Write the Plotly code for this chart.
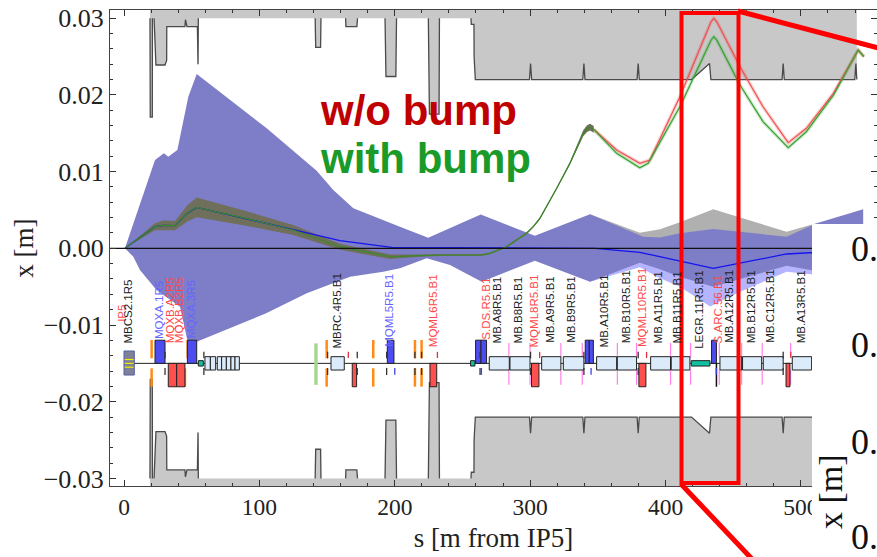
import plotly.graph_objects as go

# ---------- optics data (s in m from IP5, x in m) ----------
env_up_s = [0.7, 22.9, 29.5, 32.7, 39.4, 47.5, 53.7, 105.4, 142.3, 154.6, 169.4, 203.8, 224.7, 263.5, 303.5, 344.2, 383.5, 395.9, 410.6, 435.3, 489.4, 511.6, 546]
env_up_x = [0, .01151, .01238, .01194, .01282, .01977, .02272, .01565, .01012, .0076, .00521, .00282, .00138, .00440, .00164, .00443, .00151, .00141, .00195, .00252, .00151, .00326, .00508]
env_lo_s = [0.7, 6.9, 11.8, 24, 41.4, 46.8, 53.7, 105, 135, 167, 191.5, 203.8, 223.6, 240.8, 264.2, 303.5, 344.2, 381, 395.9, 410.6, 435.3, 489.4, 509, 546]
env_lo_x = [0, -.0011, -.00283, -.00544, -.00761, -.01196, -.01218, -.00848, -.00587, -.0037, -.00305, -.00261, -.0013, -.00218, -.00435, -.00162, -.00435, -.00188, -.00274, -.0037, -.005, -.00227, -.0029, -.0050]

grey_env_s = [344.2, 381, 395.9, 410.6, 435.3, 489.4, 511.6]
grey_env_x = [.00443, .00203, .00248, .00339, .00508, .00216, .00326]
light_env_s = [344.2, 381, 395.9, 410.6, 433, 453.5, 489.4, 509]
light_env_x = [-.00435, -.00248, -.0039, -.0050, -.0076, -.0058, -.00305, -.0034]

orbit_s = [0.7, 22.9, 29, 37.7, 46.8, 53.7, 90, 125, 159.5, 196.5, 218.6, 233.4, 264.2, 270.3, 282.6, 290, 297.4, 302.3, 307.2, 319.6, 329.4, 339.2, 342, 344.2, 347]
orbit_x = [0, .00282, .003, .00295, .00456, .00534, .0039, .00239, .00021, -.0011, -.00096, -.00087, -.00087, -.00066, .00021, .00108, .00196, .00282, .00391, .00782, .01108, .0150, .0156, .0158, .0155]
band_half = [0, .00045, .00065, .0006, .00105, .0013, .00095, .00065, .0004, .0003, .00015, .00012, .00012, .00012, .00012, .00012, .00012, .00012, .00015, .00015, .0002, .0004, .00045, .00045, .00045]

red_s = [347, 363.9, 381, 388.5, 410.6, 433.5, 435.7, 438, 455, 472, 490.6, 504, 524, 542.3, 546.5]
red_x = [.0155, .01282, .01108, .01151, .01977, .0295, .0300, .0295, .02368, .01846, .01377, .01565, .02021, .02585, .02498]
green_s = [347, 363.9, 381, 387.2, 410.6, 433.5, 435.7, 438, 455, 472, 490.6, 504, 524, 542.3, 546.5]
green_x = [.0155, .01238, .0105, .01108, .01846, .0271, .02759, .0271, .02129, .01651, .01312, .0152, .01995, .02585, .02498]
blue_s = [0.7, 22.9, 29, 37.7, 46.8, 53.7, 125, 159.5, 197.7, 348, 381, 410.6, 435.3, 489.4, 546]
blue_x = [0, .00282, .003, .00295, .00456, .00534, .00245, .00099, .00013, 0, -.00052, -.00162, -.00261, -.00074, -.0002]

# aperture profile
aper_s = [19.2, 19.4, 20.9, 21, 22.2, 23.6, 30.3, 31.5, 31.6, 45, 45.4, 46.5, 54.2, 54.4, 54.7, 54.9,
          141.2, 141.6, 145.2, 145.5, 163.7, 163.9, 172, 172.5, 192.8, 193, 193.5, 200.8, 201.3,
          224.8, 225.2, 225.6, 232.7, 233, 256.3, 256.5, 258.5, 258.6, 259.5,
          299.5, 300.3, 301.1, 338.9, 339.7, 340.5, 379, 379.8, 380.6, 419.2, 432.5, 433.5,
          486.1, 486.9, 487.7, 539.8, 540.6, 541.3]
aper_x = [.030, .0171, .0171, .030, .030, .0239, .0239, .0245, .0289, .0289, .0298, .0289, .0289, .024, .024, .030,
          .030, .0262, .0262, .030, .030, .0289, .0289, .030, .030, .0248, .0224, .0224, .030,
          .030, .0255, .0175, .0175, .030, .030, .0292, .0292, .0250, .022,
          .022, .0241, .022, .022, .0241, .022, .022, .0241, .022, .022, .0241, .022,
          .022, .0241, .022, .022, .0241, .022]

# ---------- lattice elements ----------
quad_blue = [(22.9, 30.3), (46.8, 53.7), (194.5, 199.4), (259.7, 263.7), (263.7, 267.8), (340.7, 343.7), (343.7, 346.7), (434, 437.6)]
quad_red = [(32.7, 38.9), (38.9, 45), (168.6, 171.8), (226, 231), (301, 306.5), (380.3, 385.5), (489, 491.9)]
dipoles = [(59.8, 63.8), (63.8, 67.7), (68.9, 72.1), (72.1, 75.6), (75.6, 79), (79, 82), (82, 85.2), (152.9, 162.7),
           (269.8, 284.6), (285.1, 299.9), (308.5, 322.7), (324.5, 339.7), (349.1, 363.9), (364.4, 378.6),
           (389, 403.7), (404.2, 418), (440.2, 456.2), (456.9, 471), (472.2, 486.9), (493.6, 507.9)]
collimators = [(54.9, 58.6), (256, 259.2), (419, 432.8)]
orange_s = [20.4, 149.7, 184.1, 214.9, 219.8]
orange_up_s = [47]
orange_lo_s = [45]
green_marker_s = [141.8]
magenta_s = [284.3, 299.9, 322.7, 338.5, 364.4, 378.6, 403.7, 418.5, 439.7, 456.2, 471.4, 492.4]
black_tick_s = [30.3, 150.4, 172.3, 194, 214.9, 219.8, 263, 59, 300.3, 339.7, 379.8, 486.9]
blue_tick_s = [200, 264, 345, 437.5]
red_tick_s = [165.7, 231.5, 307, 386, 492.5]

label_names = ["IP5", "MBCS2.1R5", "MQXA.1R5", "MQXB.A2R5", "MQXB.B2R5", "MQXA.3R5", "MBRC.4R5.B1", "MQML5R5.B1", "MQML6R5.B1",
               "S.DS.R5.B1", "MB.A8R5.B1", "MB.B8R5.B1", "MQML8R5.B1", "MB.A9R5.B1", "MB.B9R5.B1", "MB.A10R5.B1",
               "MB.B10R5.B1", "MQML10R5.B1", "MB.A11R5.B1", "MB.B11R5.B1", "LEGR.11R5.B1", "S.ARC.56.B1", "MB.A12R5.B1",
               "MB.B12R5.B1", "MB.C12R5.B1", "MB.A13R5.B1"]
label_s = [-1, 3.2, 25.4, 34, 40.6, 49.2, 157, 195.2, 228, 267.8, 275.7, 291.2, 302.8, 315.1, 330.6, 354.5, 370.5, 382.3,
           394.6, 408.7, 424.2, 438.9, 447, 462.8, 477.6, 499.8]
label_bottom = [-.0097, -.0125, -.0119, -.0125, -.0125, -.0119, -.0132, -.0130, -.0130, -.0121, -.0125, -.0125, -.0130, -.0125, -.0125,
                -.0130, -.0125, -.0130, -.0125, -.0125, -.0132, -.0125, -.0125, -.0125, -.0125, -.0125]
label_kind = ["r", "k", "b", "r", "r", "b", "k", "b", "r", "r", "k", "k", "r", "k", "k", "k", "k", "r", "k", "k", "k", "r", "k", "k", "k", "k"]

x_ticks = [0, 100, 200, 300, 400, 500]
x_tick_text = ["0", "100", "200", "300", "400", "500"]
y_ticks = [.03, .02, .01, 0, -.01, -.02, -.03]
y_tick_text = ["0.03", "0.02", "0.01", "0.00", "\u22120.01", "\u22120.02", "\u22120.03"]

WIDTH, HEIGHT = 877, 557
LEFT, TOP, BOTTOM = 110, 10, 486
XMIN, XMAX = -10.34, 556.2
YMIN, YMAX = -.03099, .03107
SERIF = "Liberation Serif"
SANS = "Liberation Sans"
GREY = "#c8c8c8"
PURPLE = "#7e7ec8"


def xp(px):
    return (px - LEFT) / (WIDTH - LEFT)


def yp(py):
    return (BOTTOM - py) / (BOTTOM - TOP)


fig = go.Figure()


def poly(xs, ys, color):
    fig.add_trace(go.Scatter(x=xs, y=ys, fill="toself", fillcolor=color, mode="none", hoverinfo="skip"))


def curve(xs, ys, color, width):
    fig.add_trace(go.Scatter(x=xs, y=ys, mode="lines", line=dict(color=color, width=width), hoverinfo="skip"))


# aperture (upper and mirrored lower)
line_s, line_x = [], []
for i, (a, b) in enumerate(zip(aper_s, aper_x)):
    line_s.append(a)
    line_x.append(b)
    if i + 1 < len(aper_s) and b == .030 and aper_x[i + 1] == .030:
        line_s.append(None)
        line_x.append(None)
poly([aper_s[0]] + aper_s + [aper_s[-1]], [YMAX] + aper_x + [YMAX], GREY)
poly([aper_s[0]] + aper_s + [aper_s[-1]], [YMIN] + [-v for v in aper_x] + [YMIN], GREY)
curve(line_s, line_x, "#4a4a4a", 1.3)
curve(line_s, [None if v is None else -v for v in line_x], "#4a4a4a", 1.3)

# envelopes
poly(grey_env_s + grey_env_s[::-1], grey_env_x + [0] * len(grey_env_s), "#b0b0b0")
poly(light_env_s + light_env_s[::-1], light_env_x + [0] * len(light_env_s), "#b4b4ff")
poly(env_up_s + env_lo_s[::-1], env_up_x + env_lo_x[::-1], PURPLE)

# orbit band
band_up = [v + h for v, h in zip(orbit_x, band_half)]
band_lo = [v - h for v, h in zip(orbit_x, band_half)]
poly(orbit_s + orbit_s[::-1], band_up + band_lo[::-1], "#6f6f5c")

# orbits
curve(blue_s, blue_x, "#1414ee", 1.3)
curve(red_s, red_x, "rgba(240,70,70,0.25)", 3.5)
curve(green_s, green_x, "rgba(50,170,50,0.25)", 3.5)
curve(red_s, red_x, "#f05050", 1.2)
curve(orbit_s, orbit_x, "#3a8a28", 1.2)
curve(green_s, green_x, "#38a030", 1.2)

# zero line and beam line
curve([XMIN, XMAX], [0, 0], "#111111", 1.2)
curve([0, 510], [-.015, -.015], "#222222", 1)

shapes = []


def box(s0, s1, y0, y1, fill, line="#222222", lw=1):
    shapes.append(dict(type="rect", xref="x", yref="y", x0=s0, x1=s1, y0=y0, y1=y1, fillcolor=fill,
                       line=dict(color=line, width=lw), layer="above"))


def bar(s, y0, y1, color, lw):
    shapes.append(dict(type="line", xref="x", yref="y", x0=s, x1=s, y0=y0, y1=y1,
                       line=dict(color=color, width=lw), layer="above"))


for s in orange_s:
    bar(s, -.01196, -.01434, "#ff8a14", 2.5)
    bar(s, -.01565, -.01804, "#ff8a14", 2.5)
for s in orange_up_s:
    bar(s, -.01196, -.01434, "#ff8a14", 2.5)
for s in orange_lo_s:
    bar(s, -.01565, -.01804, "#ff8a14", 2.5)
for s in green_marker_s:
    bar(s, -.0124, -.0178, "#a4d890", 3.5)
for s in magenta_s:
    bar(s, -.01235, -.0142, "#ff80e8", 1.2)
    bar(s, -.0158, -.0178, "#ff80e8", 1.2)
for s0, s1 in dipoles:
    box(s0, s1, -.01413, -.01587, "#dcebfa")
for s0, s1 in collimators:
    box(s0, s1, -.01465, -.01535, "#10c0a0")
box(0, 7.6, -.01339, -.01652, "#808098", "#5060a0")
for dy in (-.0005, 0, .0005):
    shapes.append(dict(type="line", xref="x", yref="y", x0=.5, x1=7.1, y0=-.015 + dy, y1=-.015 + dy,
                       line=dict(color="#f0f000", width=1.2), layer="above"))
for s0, s1 in quad_blue:
    box(s0, s1, -.01198, -.015, "#4c4cf0")
for s0, s1 in quad_red:
    box(s0, s1, -.015, -.01805, "#ff5050")
bar(437.6, -.015, -.01805, "#111111", 1.5)
for s in black_tick_s:
    bar(s, -.01348, -.01434, "#333333", 1.3)
    bar(s, -.0156, -.01652, "#333333", 1.3)
for s in blue_tick_s:
    bar(s, -.0156, -.0165, "#4040f0", 1.3)
for s in red_tick_s:
    bar(s, -.0135, -.0143, "#e03040", 1.3)

# overlay: white panel, zoom frame and connector lines
shapes.append(dict(type="rect", xref="paper", yref="paper", x0=xp(812), x1=xp(880), y0=yp(224), y1=yp(560),
                   fillcolor="white", line=dict(width=0), layer="above"))
shapes.append(dict(type="rect", xref="paper", yref="paper", x0=xp(681.5), x1=xp(738.5), y0=yp(483), y1=yp(13),
                   fillcolor="rgba(0,0,0,0)", line=dict(color="#ff0000", width=4), layer="above"))
shapes.append(dict(type="line", xref="paper", yref="paper", x0=xp(738), y0=yp(11), x1=xp(880), y1=yp(48.5),
                   line=dict(color="#ff0000", width=5), layer="above"))
shapes.append(dict(type="line", xref="paper", yref="paper", x0=xp(681), y0=yp(484), x1=xp(752), y1=yp(559),
                   line=dict(color="#ff0000", width=5), layer="above"))

annotations = []
kind_color = {"r": "#ff4848", "b": "#6464ff", "k": "#1c1c1c"}
for name, s, b, k in zip(label_names, label_s, label_bottom, label_kind):
    annotations.append(dict(x=s, y=b, xref="x", yref="y", text=name, textangle=-90, showarrow=False, xanchor="center",
                            yanchor="bottom", font=dict(family=SANS, size=11.5, color=kind_color[k]), borderpad=0))
annotations.append(dict(x=143.3, y=.0180, xref="x", yref="y", text="<b>w/o bump</b>", showarrow=False, xanchor="left",
                        font=dict(family=SANS, size=42, color="#c00000")))
annotations.append(dict(x=143.3, y=.01177, xref="x", yref="y", text="<b>with bump</b>", showarrow=False, xanchor="left",
                        font=dict(family=SANS, size=42, color="#1a9a28")))
for py in (249, 345, 442, 537):
    annotations.append(dict(x=xp(850), y=yp(py), xref="paper", yref="paper", text="0.", showarrow=False, xanchor="left",
                            yanchor="middle", borderpad=0, font=dict(family=SERIF, size=36, color="#111111")))
annotations.append(dict(x=xp(830), y=yp(492), xref="paper", yref="paper", text="x [m]", textangle=-90, showarrow=False,
                        xanchor="center", yanchor="middle", font=dict(family=SERIF, size=34, color="#111111")))

axis_common = dict(showgrid=False, zeroline=False, showline=True, linecolor="#444444", linewidth=1, mirror="ticks",
                   ticks="inside", tickcolor="#333333", ticklen=6, tickwidth=1)

fig.update_layout(
    width=WIDTH, height=HEIGHT, margin=dict(l=LEFT, r=0, t=TOP, b=HEIGHT - BOTTOM, pad=0, autoexpand=False),
    paper_bgcolor="white", plot_bgcolor="white", showlegend=False, shapes=shapes, annotations=annotations,
    xaxis=dict(range=[XMIN, XMAX], tickmode="array", tickvals=x_ticks, ticktext=x_tick_text,
               minor=dict(ticks="inside", dtick=20, tick0=0, ticklen=3, tickcolor="#333333"),
               tickfont=dict(family=SERIF, size=23.5, color="#222222"),
               title=dict(text="s [m from IP5]", font=dict(family=SERIF, size=27, color="#222222"), standoff=8),
               **axis_common),
    yaxis=dict(range=[YMIN, YMAX], tickmode="array", tickvals=y_ticks, ticktext=y_tick_text,
               minor=dict(ticks="inside", dtick=.002, tick0=0, ticklen=3, tickcolor="#333333"),
               tickfont=dict(family=SERIF, size=26, color="#222222"),
               title=dict(text="x [m]", font=dict(family=SERIF, size=27, color="#222222"), standoff=2),
               **axis_common),
)

fig.write_html("out.html", config=dict(displayModeBar=False),
               post_script="document.body.style.margin='0';document.body.style.overflow='hidden';")
